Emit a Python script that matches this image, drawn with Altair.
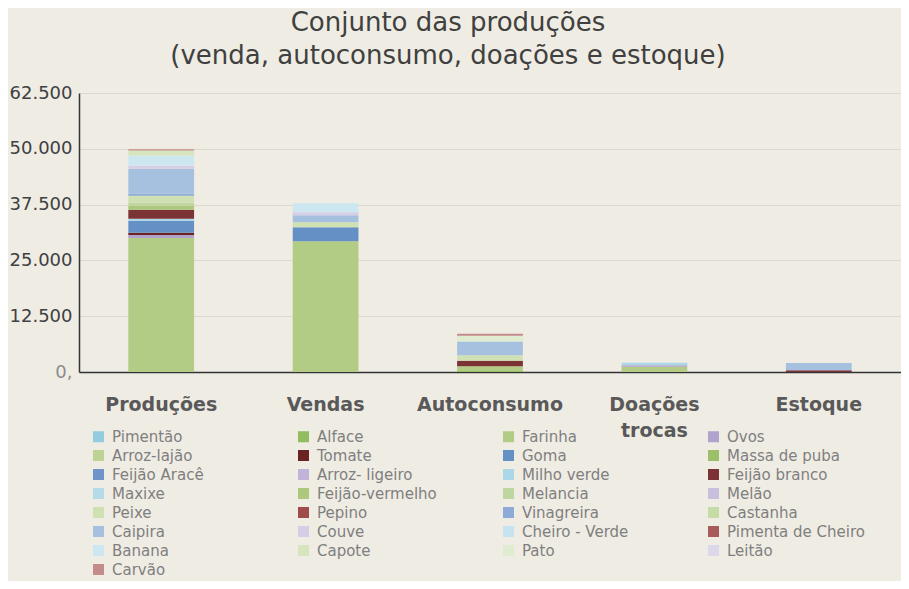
import altair as alt
import pandas as pd

categories = ["Produções", "Vendas", "Autoconsumo", "Doações trocas", "Estoque"]

series = ["Pimentão", "Alface", "Farinha", "Ovos",
          "Arroz-lajão", "Tomate", "Goma", "Massa de puba",
          "Feijão Aracê", "Arroz- ligeiro", "Milho verde", "Feijão branco",
          "Maxixe", "Feijão-vermelho", "Melancia", "Melão",
          "Peixe", "Pepino", "Vinagreira", "Castanha",
          "Caipira", "Couve", "Cheiro - Verde", "Pimenta de Cheiro",
          "Banana", "Capote", "Pato", "Leitão",
          "Carvão"]

colors = ["#93cbdf", "#93bb5f", "#b3cc85", "#b2a3cc",
          "#bcd393", "#6b2222", "#6590c6", "#9cc06a",
          "#6f95c8", "#c2b3d9", "#abd8e6", "#7b3336",
          "#b3dce8", "#abc87d", "#c0d6a0", "#c9bfdc",
          "#cfe1b3", "#a04a4a", "#8eabd8", "#c6dca6",
          "#a6c1e0", "#d6cde6", "#c6e4ef", "#a95a5a",
          "#cde7f0", "#d6e5bd", "#e0ecd0", "#ddd7ea",
          "#c48b8b"]

producoes = [0, 0, 30000, 670,
             0, 500, 2700, 0,
             0, 0, 450, 2000,
             0, 900, 700, 0,
             1570, 0, 450, 0,
             5600, 670, 0, 0,
             2300, 1120, 0, 0,
             250]
vendas = [0, 0, 29300, 0,
          0, 0, 3140, 0,
          0, 0, 0, 0,
          0, 0, 0, 0,
          1120, 0, 0, 0,
          1570, 670, 0, 0,
          2000, 0, 0, 0,
          0]
autoconsumo = [0, 250, 1050, 0,
               0, 0, 0, 0,
               0, 0, 0, 1200,
               0, 0, 0, 0,
               1250, 0, 0, 0,
               3100, 0, 0, 0,
               0, 0, 1250, 0,
               450]
doacoes = [0, 0, 1150, 370,
           0, 0, 0, 0,
           0, 0, 560, 0,
           0, 0, 0, 0,
           0, 0, 0, 0,
           0, 0, 0, 0,
           0, 0, 0, 0,
           0]
estoque = [0, 0, 0, 0,
           0, 0, 0, 0,
           0, 0, 0, 400,
           0, 0, 0, 0,
           0, 0, 0, 0,
           1600, 0, 0, 0,
           0, 0, 0, 0,
           0]

y_ticks = [0, 12500, 25000, 37500, 50000, 62500]

all_values = [producoes, vendas, autoconsumo, doacoes, estoque]
rows = []
for ci, cat in enumerate(categories):
    for si, s in enumerate(series):
        rows.append({"cat": cat, "serie": s, "idx": si, "valor": all_values[ci][si]})
df = pd.DataFrame(rows)

FONT = "DejaVu Sans"

chart = alt.Chart(df).mark_bar().encode(
    x=alt.X("cat:N", sort=categories, title="",
            scale=alt.Scale(paddingInner=0.6, paddingOuter=0.3),
            axis=alt.Axis(labelExpr="split(datum.label, ' ')", labelAngle=0,
                          labelFontSize=19, labelFontWeight="bold", labelColor="#595959",
                          labelFont=FONT, labelPadding=23, labelLineHeight=26,
                          labelBaseline="top", ticks=False, grid=False,
                          domainColor="#333333", domainWidth=1.5)),
    y=alt.Y("valor:Q", stack="zero", title="",
            scale=alt.Scale(domain=[0, 62500], nice=False),
            axis=alt.Axis(values=y_ticks,
                          labelExpr="datum.value == 0 ? '0,' : replace(format(datum.value, ',.0f'), ',', '.')",
                          labelFontSize=18, labelFont=FONT,
                          labelColor={"condition": {"test": "datum.value == 0", "value": "#8c8c8c"}, "value": "#404040"},
                          labelPadding=7, ticks=False,
                          domainColor="#333333", domainWidth=1.5,
                          grid=True, gridColor="#dbd8cf", gridWidth=1)),
    color=alt.Color("serie:N", sort=series, title="",
                    scale=alt.Scale(domain=series, range=colors),
                    legend=alt.Legend(orient="none", legendX=12, legendY=336, columns=4,
                                      direction="horizontal",
                                      gridAlign="all", columnPadding=46, rowPadding=3.0,
                                      symbolType="square", symbolSize=121, symbolStrokeWidth=0,
                                      labelFontSize=15, labelFont=FONT, labelColor="#7f7f7f",
                                      labelOffset=6, padding=0)),
    order=alt.Order("idx:Q", sort="ascending"),
).properties(
    width=822,
    height=279,
    autosize=alt.AutoSizeParams(type="none"),
    padding={"left": 71, "top": 85, "right": 0, "bottom": 209},
    background="#efece4",
    title=alt.TitleParams(
        text=["Conjunto das produções", "(venda, autoconsumo, doações e estoque)"],
        fontSize=26, font=FONT, fontWeight="normal", color="#404040",
        lineHeight=33, anchor="middle", offset=15, dx=-42),
).configure_view(stroke="transparent")

chart.save("out.html", embed_options={"renderer": "svg", "actions": False})
